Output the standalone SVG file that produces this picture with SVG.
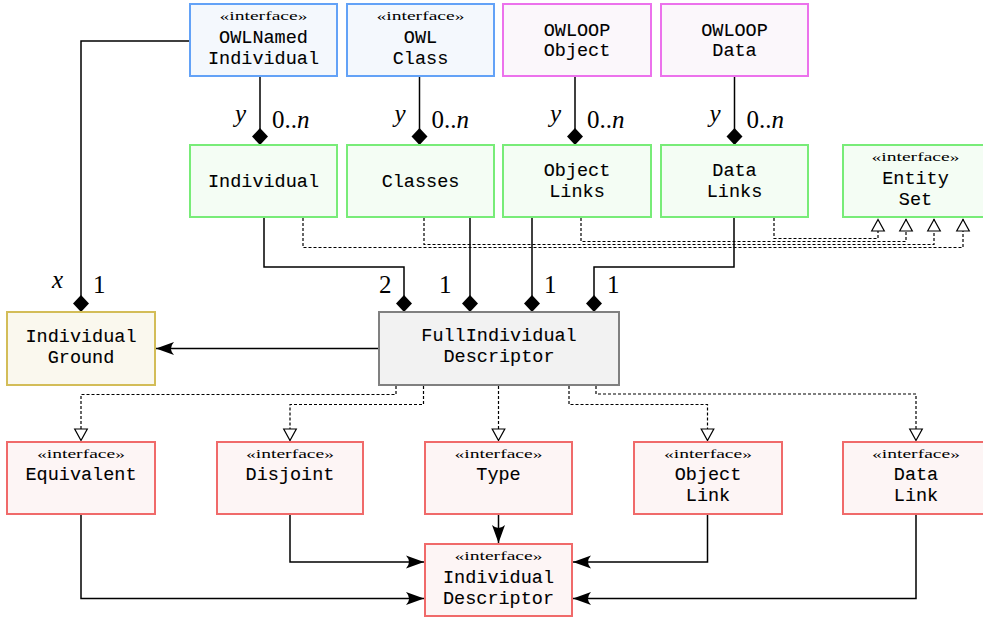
<svg xmlns="http://www.w3.org/2000/svg" width="983" height="619" viewBox="0 0 983 619">
<style>
.box{stroke-width:2}
.blue{fill:#f4f8fd;stroke:#63a2f7}
.pink{fill:#fbf7fb;stroke:#ec72ec}
.green{fill:#f4fdf4;stroke:#78ec78}
.gold{fill:#faf8ee;stroke:#d3bd58}
.gray{fill:#f2f2f2;stroke:#808080}
.red{fill:#fdf5f5;stroke:#f06a6a}
.tt{font-family:"Liberation Mono","Courier New",monospace;font-size:18.5px;text-anchor:middle;fill:#000;stroke:#000;stroke-width:0.1}
.st{font-family:"Liberation Serif","DejaVu Serif",serif;font-size:13.5px;text-anchor:middle;fill:#000}
.m{font-family:"Liberation Serif","DejaVu Serif",serif;font-size:25px;fill:#000}
.mi{font-style:italic}
.solid{fill:none;stroke:#000;stroke-width:1.5}
.dash{fill:none;stroke:#000;stroke-width:1.2;stroke-dasharray:3 2}
</style>
<defs>
<marker id="dia" markerUnits="userSpaceOnUse" viewBox="-18 -9 19 18" refX="0" refY="0" markerWidth="19" markerHeight="18" orient="auto">
<path d="M0,0 L-8.5,-8 L-17,0 L-8.5,8 Z" fill="#000" stroke="none"/>
</marker>
<marker id="arr" markerUnits="userSpaceOnUse" viewBox="-19 -8 20 16" refX="0" refY="0" markerWidth="20" markerHeight="16" orient="auto">
<path d="M0,0 L-18,-6.5 Q-12,0 -18,6.5 Z" fill="#000" stroke="none"/>
</marker>
<marker id="tri" markerUnits="userSpaceOnUse" viewBox="-14 -8 15 16" refX="0" refY="0" markerWidth="15" markerHeight="16" orient="auto">
<path d="M-0.5,0 L-12,-6.3 L-12,6.3 Z" fill="#fff" stroke="#000" stroke-width="1.2" stroke-dasharray="none"/>
</marker>
</defs>

<g id="connectors">
<path class="solid" d="M190,41 H81 V312" marker-end="url(#dia)"/>
<path class="solid" d="M260,77 V145" marker-end="url(#dia)"/>
<path class="solid" d="M419.5,77 V145" marker-end="url(#dia)"/>
<path class="solid" d="M575,77 V145" marker-end="url(#dia)"/>
<path class="solid" d="M734.5,77 V145" marker-end="url(#dia)"/>
<path class="dash" d="M303,218 V247.5 H963 V219" marker-end="url(#tri)"/>
<path class="dash" d="M424,218 V244.5 H934 V219" marker-end="url(#tri)"/>
<path class="dash" d="M581,218 V241.5 H906 V219" marker-end="url(#tri)"/>
<path class="dash" d="M774,218 V238.5 H878 V219" marker-end="url(#tri)"/>
<path class="solid" d="M264,218 V267 H404 V312" marker-end="url(#dia)"/>
<path class="solid" d="M470,218 V312" marker-end="url(#dia)"/>
<path class="solid" d="M532,218 V312" marker-end="url(#dia)"/>
<path class="solid" d="M734,218 V267 H594 V312" marker-end="url(#dia)"/>
<path class="solid" d="M379,348.5 H156" marker-end="url(#arr)"/>
<path class="dash" d="M396,386 V394.5 H81 V441" marker-end="url(#tri)"/>
<path class="dash" d="M423.5,386 V404.5 H290 V441" marker-end="url(#tri)"/>
<path class="dash" d="M498.5,386 V441" marker-end="url(#tri)"/>
<path class="dash" d="M569,386 V404.5 H707.5 V441" marker-end="url(#tri)"/>
<path class="dash" d="M596,386 V394 H916 V441" marker-end="url(#tri)"/>
<path class="solid" d="M498.5,515 V543" marker-end="url(#arr)"/>
<path class="solid" d="M290,515 V562 H424" marker-end="url(#arr)"/>
<path class="solid" d="M81,515 V598.5 H424" marker-end="url(#arr)"/>
<path class="solid" d="M707.5,515 V562 H573" marker-end="url(#arr)"/>
<path class="solid" d="M916,515 V598.5 H573" marker-end="url(#arr)"/>
<text class="m mi" x="246" y="122" text-anchor="end">y</text>
<text class="m" x="272" y="127.5">0..<tspan class="mi">n</tspan></text>
<text class="m mi" x="405.5" y="122" text-anchor="end">y</text>
<text class="m" x="431.5" y="127.5">0..<tspan class="mi">n</tspan></text>
<text class="m mi" x="561" y="122" text-anchor="end">y</text>
<text class="m" x="587" y="127.5">0..<tspan class="mi">n</tspan></text>
<text class="m mi" x="720.5" y="122" text-anchor="end">y</text>
<text class="m" x="746.5" y="127.5">0..<tspan class="mi">n</tspan></text>
<text class="m mi" x="52" y="288">x</text>
<text class="m" x="93" y="292.5">1</text>
<text class="m" x="379" y="293">2</text>
<text class="m" x="439" y="293">1</text>
<text class="m" x="544" y="293">1</text>
<text class="m" x="607" y="293">1</text>
</g>

<g id="OWLNamedIndividual">
<rect class="box blue" x="190" y="4" width="147" height="72"/>
<text class="st" x="263.5" y="20" textLength="88" lengthAdjust="spacingAndGlyphs">«interface»</text>
<text class="tt" x="263.5" y="43">OWLNamed</text>
<text class="tt" x="263.5" y="64">Individual</text>
</g>
<g id="OWLClass">
<rect class="box blue" x="347" y="4" width="147" height="72"/>
<text class="st" x="420.5" y="20" textLength="88" lengthAdjust="spacingAndGlyphs">«interface»</text>
<text class="tt" x="420.5" y="43">OWL</text>
<text class="tt" x="420.5" y="64">Class</text>
</g>
<g id="OWLOOPObject">
<rect class="box pink" x="503" y="4" width="148" height="72"/>
<text class="tt" x="577" y="36">OWLOOP</text>
<text class="tt" x="577" y="56">Object</text>
</g>
<g id="OWLOOPData">
<rect class="box pink" x="661" y="4" width="147" height="72"/>
<text class="tt" x="734.5" y="36">OWLOOP</text>
<text class="tt" x="734.5" y="56">Data</text>
</g>

<g id="Individual">
<rect class="box green" x="190" y="145" width="147" height="72"/>
<text class="tt" x="263.5" y="187">Individual</text>
</g>
<g id="Classes">
<rect class="box green" x="347" y="145" width="147" height="72"/>
<text class="tt" x="420.5" y="187">Classes</text>
</g>
<g id="ObjectLinks">
<rect class="box green" x="503" y="145" width="148" height="72"/>
<text class="tt" x="577" y="176">Object</text>
<text class="tt" x="577" y="197">Links</text>
</g>
<g id="DataLinks">
<rect class="box green" x="661" y="145" width="147" height="72"/>
<text class="tt" x="734.5" y="176">Data</text>
<text class="tt" x="734.5" y="197">Links</text>
</g>
<g id="EntitySet">
<rect class="box green" x="843" y="145" width="147" height="72"/>
<text class="st" x="915.5" y="161" textLength="88" lengthAdjust="spacingAndGlyphs">«interface»</text>
<text class="tt" x="915.5" y="184">Entity</text>
<text class="tt" x="915.5" y="205">Set</text>
</g>

<g id="IndividualGround">
<rect class="box gold" x="7" y="312" width="148" height="73"/>
<text class="tt" x="81" y="342">Individual</text>
<text class="tt" x="81" y="363">Ground</text>
</g>
<g id="FullIndividualDescriptor">
<rect class="box gray" x="379" y="312" width="240" height="73"/>
<text class="tt" x="499" y="341">FullIndividual</text>
<text class="tt" x="499" y="362">Descriptor</text>
</g>

<g id="Equivalent">
<rect class="box red" x="7" y="442" width="148" height="72"/>
<text class="st" x="81" y="458" textLength="88" lengthAdjust="spacingAndGlyphs">«interface»</text>
<text class="tt" x="81" y="480">Equivalent</text>
</g>
<g id="Disjoint">
<rect class="box red" x="217" y="442" width="146" height="72"/>
<text class="st" x="290" y="458" textLength="88" lengthAdjust="spacingAndGlyphs">«interface»</text>
<text class="tt" x="290" y="480">Disjoint</text>
</g>
<g id="Type">
<rect class="box red" x="425" y="442" width="147" height="72"/>
<text class="st" x="498.5" y="458" textLength="88" lengthAdjust="spacingAndGlyphs">«interface»</text>
<text class="tt" x="498.5" y="480">Type</text>
</g>
<g id="ObjectLink">
<rect class="box red" x="634" y="442" width="148" height="72"/>
<text class="st" x="708" y="458" textLength="88" lengthAdjust="spacingAndGlyphs">«interface»</text>
<text class="tt" x="708" y="480">Object</text>
<text class="tt" x="708" y="501">Link</text>
</g>
<g id="DataLink">
<rect class="box red" x="843" y="442" width="147" height="72"/>
<text class="st" x="916" y="458" textLength="88" lengthAdjust="spacingAndGlyphs">«interface»</text>
<text class="tt" x="916" y="480">Data</text>
<text class="tt" x="916" y="501">Link</text>
</g>
<g id="IndividualDescriptor">
<rect class="box red" x="425" y="544" width="147" height="72"/>
<text class="st" x="498.5" y="560" textLength="88" lengthAdjust="spacingAndGlyphs">«interface»</text>
<text class="tt" x="498.5" y="583">Individual</text>
<text class="tt" x="498.5" y="604">Descriptor</text>
</g>
</svg>
